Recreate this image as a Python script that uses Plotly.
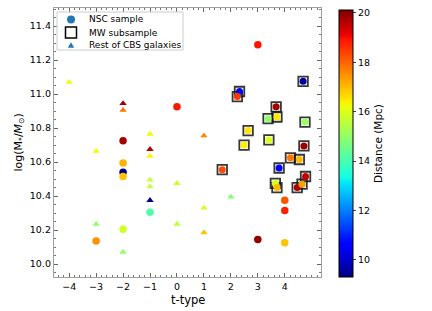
import numpy as np
import plotly.graph_objects as go

# ---- data ----
# Rest of CBS galaxies (triangles)
rest_ttype = [-4, -2, -2, -1, 1, -3, -1, -1, -1, -1, 0, -1, 1, -3, 0, 1, -2, 2]
rest_mass = [11.07, 10.945, 10.905, 10.765, 10.755, 10.665, 10.675, 10.635, 10.495,
             10.455, 10.475, 10.375, 10.33, 10.235, 10.235, 10.185, 10.07, 10.395]
rest_dist = [16.2, 19.8, 17.8, 16.3, 17.6, 16.2, 19.6, 16.3, 15.7,
             15.6, 15.8, 9.5, 15.8, 15.0, 15.6, 16.9, 15.0, 14.8]

# NSC sample (circles, not in MW subsample)
nsc_ttype = [0, -2, -2, -2, -2, -1, -2, -3, 3, 4, 4, 3, 4]
nsc_mass = [10.925, 10.725, 10.595, 10.54, 10.515, 10.305, 10.205, 10.135,
            11.29, 10.375, 10.315, 10.145, 10.125]
nsc_dist = [18.9, 19.8, 17.1, 9.4, 16.9, 14.1, 15.8, 17.5, 18.9, 18.2, 18.8, 19.9, 16.9]

# MW subsample (circles inside squares)
mw_ttype = [2.32, 2.24, 4.68, 3.68, 3.38, 3.71, 4.75, 2.64, 2.49, 3.41,
            4.71, 4.21, 4.54, 1.68, 3.79, 4.77, 3.65, 3.71, 4.46, 4.64]
mw_mass = [11.015, 10.985, 11.075, 10.925, 10.855, 10.865, 10.835, 10.785, 10.70, 10.73,
           10.695, 10.625, 10.615, 10.555, 10.565, 10.515, 10.475, 10.45, 10.45, 10.47]
mw_dist = [10.6, 18.5, 9.6, 19.8, 15.0, 16.5, 15.1, 16.5, 16.4, 16.0,
           19.8, 17.8, 17.0, 18.3, 10.5, 19.5, 15.9, 17.0, 19.7, 17.3]

legend_names = ["NSC sample", "MW subsample", "Rest of CBS galaxies"]
x_ticks = [-4, -3, -2, -1, 0, 1, 2, 3, 4]
cbar_ticks = [10, 12, 14, 16, 18, 20]

# ---- matplotlib 'jet' colorscale ----
_r = [(0, 0), (0.35, 0), (0.66, 1), (0.89, 1), (1, 0.5)]
_g = [(0, 0), (0.125, 0), (0.375, 1), (0.64, 1), (0.91, 0), (1, 0)]
_b = [(0, 0.5), (0.11, 1), (0.34, 1), (0.65, 0), (1, 0)]
stops = sorted(set([p[0] for p in _r + _g + _b]))
def _interp(seg, f):
    xs = [p[0] for p in seg]; ys = [p[1] for p in seg]
    return float(np.interp(f, xs, ys))
jet = [[f, "rgb(%d,%d,%d)" % (round(255 * _interp(_r, f)), round(255 * _interp(_g, f)),
                               round(255 * _interp(_b, f)))] for f in stops]

FONT = "DejaVu Sans"
# plot area in pixels: x 54..321, y 8..277
L, R, T, B = 54, 321, 8, 277
def px(xp): return (xp - L) / (R - L)
def py(yp): return (B - yp) / (B - T)

fig = go.Figure()

fig.add_trace(go.Scatter(x=nsc_ttype, y=nsc_mass, mode="markers", showlegend=False,
                         marker=dict(symbol="circle", size=7.5, color=nsc_dist,
                                     coloraxis="coloraxis", line=dict(width=0))))
fig.add_trace(go.Scatter(x=mw_ttype, y=mw_mass, mode="markers", showlegend=False,
                         marker=dict(symbol="square", size=9.5, color="rgba(0,0,0,0)",
                                     line=dict(width=1.8, color="rgba(20,20,20,0.85)"))))
fig.add_trace(go.Scatter(x=mw_ttype, y=mw_mass, mode="markers", showlegend=False,
                         marker=dict(symbol="circle", size=7, color=mw_dist,
                                     coloraxis="coloraxis", line=dict(width=0))))
fig.add_trace(go.Scatter(x=rest_ttype, y=rest_mass, mode="markers", showlegend=False,
                         marker=dict(symbol="triangle-up", size=6.5, color=rest_dist,
                                     coloraxis="coloraxis", line=dict(width=0))))

axis_common = dict(showgrid=False, zeroline=False, showline=True, linecolor="#a0a0a0",
                   linewidth=1.3, mirror="allticks", ticks="inside", ticklen=4,
                   tickcolor="#666", tickwidth=1, automargin=False,
                   tickfont=dict(family=FONT, size=9.5, color="black"))

# ---- legend (drawn as a box with symbols and texts) ----
shapes = [dict(type="rect", xref="paper", yref="paper", x0=px(57), x1=px(183), y0=py(50), y1=py(12),
               line=dict(color="#cccccc", width=1), fillcolor="white", layer="above")]
rows_y = [19.5, 32.5, 45.5]
mx = px(71)
shapes.append(dict(type="circle", xref="paper", yref="paper", xsizemode="pixel", ysizemode="pixel",
                   xanchor=mx, yanchor=py(rows_y[0]), x0=-4, x1=4, y0=-4, y1=4,
                   fillcolor="#1f77b4", line=dict(width=0), layer="above"))
shapes.append(dict(type="rect", xref="paper", yref="paper", xsizemode="pixel", ysizemode="pixel",
                   xanchor=mx, yanchor=py(rows_y[1]), x0=-5.5, x1=5.5, y0=-5.5, y1=5.5,
                   fillcolor="rgba(0,0,0,0)", line=dict(width=1.5, color="black"), layer="above"))
shapes.append(dict(type="path", xref="paper", yref="paper", xsizemode="pixel", ysizemode="pixel",
                   xanchor=mx, yanchor=py(rows_y[2]), path="M-3.2,-2.3 L3.2,-2.3 L0,3.2 Z",
                   fillcolor="#1f77b4", line=dict(width=0), layer="above"))

annotations = []
for name, yy in zip(legend_names, rows_y):
    annotations.append(dict(text=name, xref="paper", yref="paper", x=px(87), y=py(yy),
                            xanchor="left", yanchor="middle", showarrow=False,
                            font=dict(family=FONT, size=9, color="black")))
annotations.append(dict(text="t-type", xref="paper", yref="paper", x=0.5, y=py(300),
                        xanchor="center", yanchor="middle", showarrow=False,
                        font=dict(family=FONT, size=11.5, color="black")))
annotations.append(dict(text="log(M<sub>*</sub>/<i>M</i><sub>\u2299</sub>)", xref="paper", yref="paper",
                        x=px(18), y=0.5, xanchor="center", yanchor="middle", textangle=-90,
                        showarrow=False, font=dict(family=FONT, size=11, color="black")))

fig.update_layout(
    width=432, height=311,
    margin=dict(l=L, r=432 - R, t=T, b=311 - B),
    paper_bgcolor="white", plot_bgcolor="white",
    font=dict(family=FONT, color="black"),
    showlegend=False,
    xaxis=dict(range=[-4.563, 5.344], tickvals=x_ticks,
               ticktext=["\u2212" + str(-v) if v < 0 else str(v) for v in x_ticks],
               minor=dict(ticks="inside", ticklen=2, dtick=0.2, tick0=0, tickcolor="#777"),
               **axis_common),
    yaxis=dict(range=[9.924, 11.506], tick0=10, dtick=0.2, tickformat=".1f",
               minor=dict(ticks="inside", ticklen=2, dtick=0.05, tick0=10, tickcolor="#777"),
               **axis_common),
    coloraxis=dict(colorscale=jet, cmin=9.3, cmax=20.12,
                   colorbar=dict(thickness=14, thicknessmode="pixels", len=267, lenmode="pixels",
                                 x=px(339), xanchor="left", xpad=0, y=py(10), yanchor="top", ypad=0,
                                 outlinewidth=1, outlinecolor="black",
                                 ticks="outside", ticklen=3, tickvals=cbar_ticks,
                                 tickfont=dict(family=FONT, size=9.5),
                                 title=dict(text="Distance (Mpc)", side="right",
                                            font=dict(family=FONT, size=10.5)))),
    shapes=shapes,
    annotations=annotations,
)

fig.write_html("out.html", config={"displayModeBar": False},
               post_script="document.body.style.margin='0';document.body.style.padding='0';")
